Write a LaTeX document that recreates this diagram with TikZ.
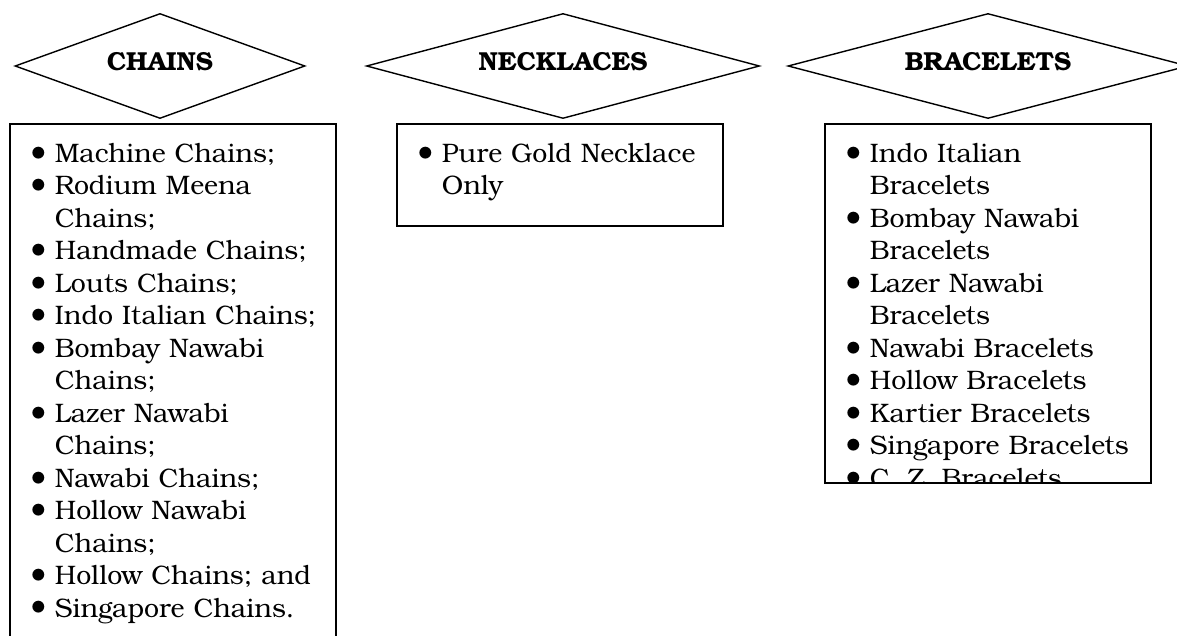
\documentclass[tikz,border=0pt]{standalone}
\usepackage{fontspec}
\setmainfont{TeX Gyre Bonum}
\usetikzlibrary{shapes.geometric,positioning}
\newlength{\px}
\setlength{\px}{0.025cm}
\newcommand{\jewel}[1]{\hangindent=24.5\px\hangafter=1\noindent\makebox[24.5\px][l]{\raisebox{-0.14em}{\scalebox{1.3}{\textbullet}}}#1\par}

\begin{document}
\begin{tikzpicture}[x=0.025cm,y=-0.025cm,
  heading/.style={diamond,draw,line width=1pt,minimum height=2.625cm,aspect=4,
    inner sep=0pt,text depth=0.25cm,font=\fontsize{18.5pt}{23pt}\selectfont\bfseries},
  listbox/.style={draw,line width=1.2pt,minimum width=8.15cm,anchor=north,inner sep=0pt},
  listtext/.style={anchor=north west,text width=7.5cm,align=left,
    inner xsep=0.525cm,inner ysep=0.5cm,font=\fontsize{19pt}{23.1pt}\selectfont}]
  \useasboundingbox (0,0) rectangle (1177,636);

  \node[heading,minimum width=7.25cm] (chains) at (160,66) {CHAINS};
  \node[heading,minimum width=9.825cm] (necklaces) at (563,66) {NECKLACES};
  \node[heading,minimum width=10cm] (bracelets) at (988,66) {BRACELETS};

  \node[listbox,minimum height=13.425cm] (chainbox) at (173,123) {};
  \node[listbox,minimum height=2.55cm] (necklacebox) at (560,123) {};
  \node[listbox,minimum height=8.975cm] (braceletbox) at (988,123) {};

  \node[listtext] (chainlist) at (chainbox.north west) {
    \jewel{Machine Chains;}
    \jewel{Rodium Meena\newline Chains;}
    \jewel{Handmade Chains;}
    \jewel{Louts Chains;}
    \jewel{Indo Italian Chains;}
    \jewel{Bombay Nawabi\newline Chains;}
    \jewel{Lazer Nawabi\newline Chains;}
    \jewel{Nawabi Chains;}
    \jewel{Hollow Nawabi\newline Chains;}
    \jewel{Hollow Chains; and}
    \jewel{Singapore Chains.}};
  \node[listtext] (necklacelist) at (necklacebox.north west) {
    \jewel{Pure Gold Necklace\newline Only}};
  \begin{scope}
    \clip (braceletbox.north west) rectangle (braceletbox.south east);
    \node[listtext] (braceletlist) at (braceletbox.north west) {
      \jewel{Indo Italian\newline Bracelets}
      \jewel{Bombay Nawabi\newline Bracelets}
      \jewel{Lazer Nawabi\newline Bracelets}
      \jewel{Nawabi Bracelets}
      \jewel{Hollow Bracelets}
      \jewel{Kartier Bracelets}
      \jewel{Singapore Bracelets}
      \jewel{C. Z. Bracelets}};
  \end{scope}
\end{tikzpicture}
\end{document}
